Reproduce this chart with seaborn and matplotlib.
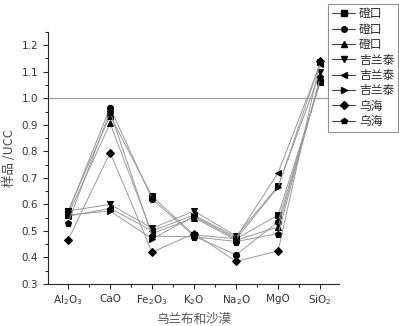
import matplotlib
matplotlib.use("Agg")
import matplotlib.pyplot as plt
from matplotlib.lines import Line2D
from matplotlib.ticker import MultipleLocator
import numpy as np
import pandas as pd
import seaborn as sns

oxides = ["Al$_2$O$_3$", "CaO", "Fe$_2$O$_3$", "K$_2$O", "Na$_2$O", "MgO", "SiO$_2$"]
names = ["磴口", "磴口", "磴口", "吉兰泰", "吉兰泰", "吉兰泰", "乌海", "乌海"]
markers = ["s", "o", "^", "v", "<", ">", "D", "p"]

s1 = [0.575, 0.935, 0.630, 0.485, 0.470, 0.560, 1.060]
s2 = [0.570, 0.965, 0.620, 0.480, 0.410, 0.535, 1.065]
s3 = [0.560, 0.905, 0.490, 0.550, 0.465, 0.515, 1.070]
s4 = [0.575, 0.600, 0.510, 0.575, 0.480, 0.670, 1.100]
s5 = [0.555, 0.585, 0.500, 0.560, 0.475, 0.720, 1.130]
s6 = [0.560, 0.575, 0.470, 0.555, 0.470, 0.665, 1.135]
s7 = [0.465, 0.795, 0.420, 0.490, 0.385, 0.425, 1.140]
s8 = [0.530, 0.950, 0.480, 0.478, 0.460, 0.490, 1.080]
series = [s1, s2, s3, s4, s5, s6, s7, s8]

rows = []
for i, vals in enumerate(series):
    for j, v in enumerate(vals):
        rows.append({"id": i, "x": j, "y": v})
df = pd.DataFrame(rows)

sns.set_style("ticks")
plt.rcParams["font.family"] = ["DejaVu Sans"]

fig = plt.figure(figsize=(3.99, 3.26), dpi=100)
ax = fig.add_axes([0.12, 0.129, 0.73, 0.773])

ax.axhline(1.0, color="#a0a0a0", lw=0.9, zorder=1)
sns.lineplot(data=df, x="x", y="y", hue="id", style="id",
             palette=["#999999"] * 8, markers=markers, dashes=False,
             markersize=4.5, linewidth=0.7, legend=False, ax=ax)
for ln in ax.lines[1:]:
    ln.set_markerfacecolor("black")
    ln.set_markeredgecolor("black")

ax.set_xlim(-0.48, 6.45)
ax.set_ylim(0.3, 1.25)
ax.set_xticks(range(len(oxides)))
ax.set_xticklabels(oxides, fontsize=7.5, color="#333333")
ax.xaxis.set_minor_locator(MultipleLocator(0.5))
ax.yaxis.set_major_locator(MultipleLocator(0.1))
ax.yaxis.set_minor_locator(MultipleLocator(0.05))
ax.tick_params(axis="y", labelsize=7.5, labelcolor="#333333")
ax.tick_params(which="major", length=3.5, width=0.8, direction="out")
ax.tick_params(which="minor", length=2, width=0.8, direction="out")
ax.spines["top"].set_visible(False)
ax.spines["right"].set_visible(False)
ax.set_xlabel("乌兰布和沙漠", fontsize=9, family=["Noto Sans CJK SC"], color="#555555")
ax.set_ylabel("样品 /UCC", fontsize=9, family=["Noto Sans CJK SC", "DejaVu Sans"], color="#444444")

handles = [Line2D([], [], color="#444444", lw=0.8, marker=m, markersize=4,
                  markerfacecolor="black", markeredgecolor="black") for m in markers]
leg = fig.legend(handles, names, loc="upper right", bbox_to_anchor=(0.997, 0.988),
                 prop={"family": "Noto Sans CJK SC", "size": 8.5}, frameon=True,
                 fancybox=False, handlelength=2.0, handletextpad=0.3,
                 labelspacing=0.2, borderpad=0.3, borderaxespad=0)
leg.get_frame().set_edgecolor("#777777")
leg.get_frame().set_linewidth(0.8)

fig.savefig("out.png", dpi=100)
